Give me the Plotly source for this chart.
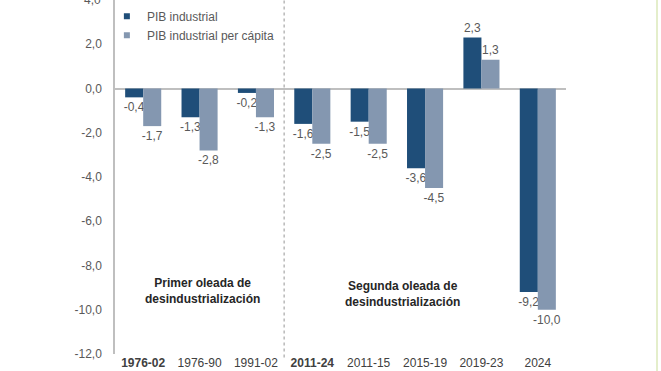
import plotly.graph_objects as go

categories = ["1976-02", "1976-90", "1991-02", "2011-24", "2011-15", "2015-19", "2019-23", "2024"]
tick_labels = ["<b>1976-02</b>", "1976-90", "1991-02", "<b>2011-24</b>", "2011-15", "2015-19", "2019-23", "2024"]
pib_industrial = [-0.4, -1.3, -0.2, -1.6, -1.5, -3.6, 2.3, -9.2]
pib_per_capita = [-1.7, -2.8, -1.3, -2.5, -2.5, -4.5, 1.3, -10.0]
y_ticks = [-12, -10, -8, -6, -4, -2, 0, 2, 4]
y_tick_labels = ["-12,0", "-10,0", "-8,0", "-6,0", "-4,0", "-2,0", "0,0", "2,0", "4,0"]

DARK = "#1f4e79"
LIGHT = "#8497b0"
FONT = "Liberation Sans, Arial, sans-serif"
GREY_TXT = "#595959"

fig = go.Figure()
fig.add_trace(go.Bar(
    x=categories, y=pib_industrial, name="PIB industrial",
    marker=dict(color=DARK, line=dict(width=0)),
    texttemplate="%{y:.1f}", textposition="outside", constraintext="none",
    cliponaxis=False, textfont=dict(size=12, color=GREY_TXT, family=FONT),
    showlegend=False,
))
fig.add_trace(go.Bar(
    x=categories, y=pib_per_capita, name="PIB industrial per cápita",
    marker=dict(color=LIGHT, line=dict(width=0)),
    texttemplate="%{y:.1f}", textposition="outside", constraintext="none",
    cliponaxis=False, textfont=dict(size=12, color=GREY_TXT, family=FONT),
    showlegend=False,
))
# legend entries with small square symbols
fig.add_trace(go.Scatter(x=[None], y=[None], mode="markers", name="PIB industrial",
                         marker=dict(symbol="square", size=6, color=DARK)))
fig.add_trace(go.Scatter(x=[None], y=[None], mode="markers", name="PIB industrial per cápita",
                         marker=dict(symbol="square", size=6, color=LIGHT)))

fig.update_layout(
    width=661, height=371,
    margin=dict(l=115, r=95, t=0, b=17, autoexpand=False),
    paper_bgcolor="white", plot_bgcolor="white",
    separators=",.",
    barmode="group", bargap=0.36, bargroupgap=0,
    font=dict(family=FONT, size=12, color=GREY_TXT),
    legend=dict(x=-0.018, y=0.995, xanchor="left", yanchor="top",
                bgcolor="rgba(0,0,0,0)", font=dict(size=12, color=GREY_TXT),
                itemwidth=30, tracegroupgap=0),
    xaxis=dict(
        type="category", tickmode="array", tickvals=categories, ticktext=tick_labels,
        showline=False, showgrid=False, ticks="", zeroline=False, automargin=False,
        tickfont=dict(size=12, color="#404040", family=FONT),
    ),
    yaxis=dict(
        range=[-12, 4], tickmode="array", tickvals=y_ticks, ticktext=y_tick_labels,
        showgrid=False, showline=True, linecolor="#bfbfbf", linewidth=1.5,
        zeroline=True, zerolinecolor="#bfbfbf", zerolinewidth=1.5, automargin=False,
        ticks="outside", ticklen=9, tickcolor="rgba(0,0,0,0)",
        tickfont=dict(size=12, color=GREY_TXT, family=FONT),
    ),
    shapes=[
        dict(type="line", xref="x", yref="paper", x0=2.5, x1=2.5, y0=-0.01, y1=1,
             line=dict(color="#a6a6a6", width=1.2, dash="dot")),
        dict(type="line", xref="paper", yref="paper", x0=1.2018, x1=1.2018, y0=-0.06, y1=1.0,
             line=dict(color="#e4eecb", width=2)),
    ],
    annotations=[
        dict(x=-0.027, y=y_ticks[-1], xref="paper", yref="y", showarrow=False,
             xanchor="right", yanchor="middle", text=y_tick_labels[-1],
             font=dict(size=12, color=GREY_TXT, family=FONT)),
        dict(x=1.05, y=-9.15, xref="x", yref="y", showarrow=False,
             text="<b>Primer oleada de<br>desindustrialización</b>",
             font=dict(size=12, color="#262626", family=FONT), align="center"),
        dict(x=4.6, y=-9.3, xref="x", yref="y", showarrow=False,
             text="<b>Segunda oleada de<br>desindustrialización</b>",
             font=dict(size=12, color="#262626", family=FONT), align="center"),
    ],
)

fig.write_html("out.html", config={"displayModeBar": False},
               post_script="document.body.style.margin='0';")
